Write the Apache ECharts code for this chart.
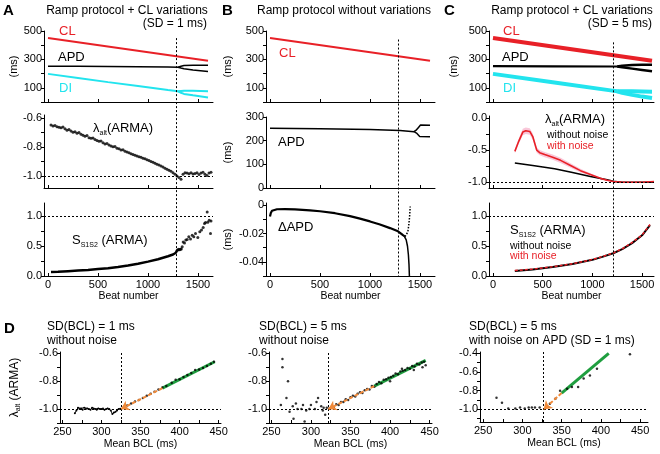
<!DOCTYPE html>
<html><head><meta charset="utf-8">
<script src="https://cdn.jsdelivr.net/npm/echarts@6/dist/echarts.min.js"></script>
<style>html,body{margin:0;padding:0;background:#fff}#c{width:660px;height:454px}</style>
</head><body><div id="c"></div>
<script>
// ---------------- DATA ----------------
const beatTicks = [0, 500, 1000, 1500];
const msTicks = [0, 100, 200, 300, 400, 500];
const msLabels = [100, 300, 500];
const aLamTicks = [-1.0, -0.9, -0.8, -0.7, -0.6];
const aLamLabels = [-1.0, -0.8, -0.6];
const sTicks = [0, 0.25, 0.5, 0.75, 1.0];
const sLabels = [0, 0.5, 1.0];
const bApdTicks = [0, 100, 200, 300];
const bDapdTicks = [0, -0.01, -0.02, -0.03, -0.04, -0.05];
const bDapdLabels = [0, -0.02, -0.04];
const cLamTicks = [0, -0.25, -0.5, -0.75, -1.0];
const cLamLabels = [0, -0.5, -1.0];
const bclTicks = [250, 275, 300, 325, 350, 375, 400, 425, 450];
const bclLabels = [250, 300, 350, 400, 450];
const dLamTicks = [-1.1, -1.0, -0.9, -0.8, -0.7, -0.6];
const dLamLabels = [-1.0, -0.8, -0.6];
const d3LamTicks = [-1.1, -1.0, -0.9, -0.8, -0.7, -0.6, -0.5, -0.4];
const d3LamLabels = [-1.0, -0.8, -0.6, -0.4];

// onset of alternans (vertical dotted lines)
const aOnset = 1275, bOnset = 1275, cOnset = 1210;
const d1Onset = 325, d2Onset = 322, d3Onset = 327;

// CL ramp (A, B, C)
const clBeats = [0, 1600];
const clValues = [450, 290];

// Panel A top
const aApdBeats = [0, 300, 600, 900, 1200, 1300];
const aApd = [252, 251, 250, 248, 246, 245];
const aDi = [198, 169, 140, 112, 84, 75];
const aBrBeats = [1300, 1330, 1360, 1450, 1600];
const aApdUp = [245, 252, 257, 258, 258];
const aApdLo = [245, 239, 234, 226, 214];
const aDiUp = [75, 78, 80, 79, 76];
const aDiLo = [75, 65, 57, 47, 32];

// Panel A middle: lambda_alt (ARMA)
const aLamBeats = [30,50,70,90,110,130,150,170,190,210,230,250,270,290,310,330,350,370,390,410,430,450,470,490,510,530,550,570,590,610,630,650,670,690,710,730,750,770,790,810,830,850,870,890,910,930,950,970,990,1010,1030,1050,1070,1090,1110,1130,1150,1170,1190,1210,1230,1250,1270,1290,1310,1330,1350,1370,1390,1410,1430,1450,1470,1490,1510,1530,1550,1570,1590,1610,1630];
const aLam = [-0.648,-0.655,-0.652,-0.660,-0.664,-0.668,-0.663,-0.675,-0.684,-0.680,
  -0.690,-0.698,-0.694,-0.705,-0.700,-0.712,-0.718,-0.725,-0.720,-0.735,
  -0.740,-0.738,-0.748,-0.755,-0.760,-0.758,-0.770,-0.778,-0.775,-0.785,
  -0.792,-0.798,-0.796,-0.808,-0.812,-0.820,-0.818,-0.828,-0.834,-0.838,
  -0.845,-0.850,-0.855,-0.860,-0.866,-0.870,-0.877,-0.880,-0.886,-0.892,
  -0.898,-0.904,-0.910,-0.917,-0.923,-0.930,-0.937,-0.944,-0.951,-0.958,
  -0.966,-0.975,-0.985,-0.998,-1.008,-1.020,
  -0.985,-0.975,-0.978,-0.982,-0.976,-0.984,-0.980,-0.975,-0.988,-0.978,-0.972,-0.985,-0.995,-0.978,-0.972];

// Panel A bottom: S_S1S2 (ARMA)
const aSBeats = [30,100,200,300,400,500,600,700,800,900,1000,1100,1200,1250,1275,1290];
const aS = [0.065,0.07,0.08,0.09,0.10,0.115,0.13,0.15,0.175,0.205,0.24,0.28,0.33,0.36,0.385,0.42];
const aSPostBeats = [1292,1300,1308,1316,1325,1333,1342,1352,1365,1378,1392,1408,1425,1442,1458,1475,1498,1518,1535,1552,1565,1575,1592,1598,1612,1625,1630];
const aSPost = [0.43,0.44,0.445,0.44,0.445,0.45,0.49,0.57,0.55,0.60,0.61,0.655,0.62,0.68,0.655,0.71,0.645,0.74,0.767,0.81,0.878,0.894,1.07,0.90,0.93,0.71,0.92];

// Panel B middle: APD
const bApdBeats = [0, 500, 1000, 1300, 1440];
const bApd = [252, 250, 247, 243, 238];
const bBrBeats = [1440, 1465, 1485, 1497, 1505, 1600];
const bApdUp = [238, 246, 256, 264, 266, 265];
const bApdLo = [238, 232, 224, 218, 216, 217];

// Panel B bottom: delta APD
const bDapdBeats = [0,8,20,40,70,150,250,400,500,650,800,900,1000,1100,1200,1280,1330,1350];
const bDapd = [-0.008,-0.0055,-0.004,-0.0032,-0.0029,-0.0028,-0.003,-0.0037,-0.0043,-0.0057,-0.0078,-0.0095,-0.0115,-0.0137,-0.0162,-0.0185,-0.0212,-0.0222];
const bDapdUpBeats = [1350,1365,1378,1388,1396,1402];
const bDapdUp = [-0.0222,-0.0215,-0.019,-0.014,-0.008,-0.001];
const bDapdDnBeats = [1345,1362,1375,1384,1390,1394];
const bDapdDn = [-0.0222,-0.0245,-0.029,-0.035,-0.042,-0.05];

// Panel C top
const cApdBeats = [0, 600, 1200, 1250];
const cApd = [252, 251, 250, 250];
const cDi = [198, 139, 80, 75];
const cBrBeats = [1250, 1300, 1400, 1500, 1600];
const cApdUp = [250, 256, 260, 262, 262];
const cApdLo = [250, 244, 235, 226, 217];
const cDiUp = [75, 76, 75, 74, 73];
const cDiLo = [75, 64, 50, 38, 28];

// Panel C middle
const cLamNoiseBeats = [220,260,300,330,370,400,440,470,520,600,680,780,880,980,1080,1150,1210,1300,1400,1500,1620];
const cLamNoise = [-0.52,-0.36,-0.22,-0.20,-0.21,-0.29,-0.50,-0.54,-0.57,-0.61,-0.66,-0.74,-0.82,-0.88,-0.94,-0.97,-0.99,-1.0,-1.0,-1.0,-0.99];
const cLamNoiseSd = [0.03,0.04,0.05,0.05,0.05,0.05,0.04,0.04,0.04,0.04,0.04,0.035,0.03,0.02,0.015,0.01,0.01,0.005,0.005,0.005,0.005];
const cLamCleanBeats = [220,400,620,800,980,1150,1210,1300,1620];
const cLamClean = [-0.70,-0.74,-0.79,-0.85,-0.91,-0.96,-0.985,-1.0,-1.0];

// Panel C bottom
const cSBeats = [220,400,600,800,1000,1100,1210,1300,1400,1500,1580];
const cSClean = [0.085,0.11,0.15,0.20,0.27,0.32,0.38,0.45,0.55,0.68,0.85];
const cSNoise = [0.09,0.115,0.155,0.205,0.275,0.325,0.385,0.455,0.56,0.685,0.86];

// Panel D1
const d1PreBcl = [266,268,270,272,274,276,278,280,282,284,286,288,290,292,294,296,298,300,302,304,306,308,310,312,314,316,318,320,322,324];
const d1Pre = [-1.03,-1.01,-0.99,-1.0,-0.995,-1.005,-0.99,-1.0,-0.995,-1.0,-1.005,-0.99,-0.995,-1.0,-1.005,-0.995,-1.0,-1.0,-0.995,-1.005,-1.0,-0.995,-1.0,-1.01,-1.035,-1.025,-1.02,-1.01,-1.0,-0.998];
const d1PostBcl = [328,333,338,343,348,353,358,363,368,373,378,383,390,395,400,405,410,415,420,425,430,435,440,444];
const d1Post = [-0.99,-0.975,-0.96,-0.945,-0.935,-0.92,-0.905,-0.89,-0.875,-0.86,-0.845,-0.835,-0.81,-0.79,-0.785,-0.77,-0.755,-0.74,-0.72,-0.715,-0.705,-0.69,-0.675,-0.66];
const d1FitBcl = [378, 445];
const d1Fit = [-0.85, -0.66];
const d1Arrow = [[378, -0.85], [325, -1.0]];

// Panel D2
const d2PreBcl = [264,264,271,269,262,273,278,292,277,281,283,288,290,294,298,300,305,307,309,313,315,318,316,320];
const d2Pre = [-0.64,-0.70,-0.80,-0.92,-0.97,-1.02,-1.07,-1.09,-0.98,-0.96,-1.00,-1.00,-0.97,-1.01,-1.00,-0.97,-1.00,-0.95,-0.92,-0.98,-1.01,-1.04,-0.99,-0.99];
const d2PostBcl = [323,326,329,332,335,338,341,344,347,350,353,356,359,362,365,368,371,374,377,380,383,386,389,392,395,398,401,404,407,410,413,416,419,422,425,428,431,434,437,440,443,445,441,400,430,415];
const d2Post = [-0.995,-0.985,-0.985,-0.965,-0.97,-0.95,-0.95,-0.93,-0.935,-0.915,-0.905,-0.91,-0.89,-0.88,-0.885,-0.865,-0.855,-0.86,-0.835,-0.84,-0.82,-0.805,-0.815,-0.79,-0.785,-0.775,-0.77,-0.76,-0.745,-0.75,-0.73,-0.725,-0.72,-0.705,-0.71,-0.69,-0.695,-0.675,-0.68,-0.665,-0.66,-0.685,-0.70,-0.80,-0.72,-0.71];
const d2FitBcl = [380, 445];
const d2Fit = [-0.835, -0.65];
const d2Arrow = [[380, -0.835], [322, -1.0]];

// Panel D3
const d3Bcl = [267,274,282,291,297,303,308,312,316,322,335,342,348,357,363,371,378,386,395,437];
const d3Val = [-0.875,-0.93,-0.99,-0.99,-0.98,-0.99,-0.98,-0.98,-0.98,-0.98,-0.94,-0.885,-0.80,-0.78,-0.76,-0.76,-0.67,-0.636,-0.565,-0.41];
const d3FitBcl = [350, 410];
const d3Fit = [-0.825, -0.40];
const d3Arrow = [[350, -0.825], [327, -1.0]];

// ---------------- STYLE / BUILD ----------------
const FONT = '"Liberation Sans", Arial, sans-serif';
const RED = '#e82027', CYAN = '#22e4ee', GREEN = '#1f9e3f', ORANGE = '#f08a3a', PINK = 'rgba(242,130,170,0.45)';
const zip = (xs, ys) => xs.map((x, i) => [x, ys[i]]);

const grids = [
  {left: 44, top: 31, width: 169, height: 71},
  {left: 44, top: 115, width: 169, height: 73},
  {left: 44, top: 203, width: 169, height: 73},
  {left: 266, top: 31, width: 169, height: 71},
  {left: 266, top: 117, width: 169, height: 71},
  {left: 266, top: 203, width: 169, height: 73},
  {left: 489, top: 31, width: 165, height: 71},
  {left: 489, top: 116, width: 165, height: 72},
  {left: 489, top: 203, width: 165, height: 73},
  {left: 60, top: 352, width: 161, height: 71},
  {left: 269, top: 352, width: 163, height: 71},
  {left: 480, top: 352, width: 168, height: 70}
];

function axis(gi, min, max, ticks, labels, fmt, isY) {
  return {
    type: 'value', gridIndex: gi, min: min, max: max,
    axisLine: {show: true, onZero: false, lineStyle: {color: '#000', width: 1}},
    axisTick: {show: true, inside: !isY, length: 3, customValues: ticks, lineStyle: {color: '#000', width: 1}},
    axisLabel: labels ? {show: true, customValues: labels, formatter: fmt, margin: isY ? 2 : 3, color: '#000', fontSize: 11, fontFamily: FONT} : {show: false},
    splitLine: {show: false}
  };
}
const yax = (gi, min, max, ticks, labels, fmt) => axis(gi, min, max, ticks, labels, fmt, true);
function named(ax, name, gap, extra) {
  return Object.assign(ax, {name: name, nameLocation: 'middle', nameGap: gap,
    nameTextStyle: Object.assign({color: '#000', fontSize: 10.5, fontFamily: FONT}, extra || {})});
}
const fStr = v => String(v);
const f1 = v => v.toFixed(1);
const f2 = v => (v === 0 ? '0' : v.toFixed(2));

const xAxes = [
  axis(0, -40, 1650, beatTicks), axis(1, -40, 1650, beatTicks),
  named(axis(2, -40, 1650, beatTicks, beatTicks, fStr), 'Beat number', 15),
  axis(3, -40, 1650, beatTicks), axis(4, -40, 1650, beatTicks),
  named(axis(5, -40, 1650, beatTicks, beatTicks, fStr), 'Beat number', 15),
  axis(6, -40, 1620, beatTicks), axis(7, -40, 1620, beatTicks),
  named(axis(8, -40, 1620, beatTicks, beatTicks, fStr), 'Beat number', 15),
  named(axis(9, 247, 453, bclTicks, bclLabels, fStr), 'Mean BCL (ms)', 16),
  named(axis(10, 247, 453, bclTicks, bclLabels, fStr), 'Mean BCL (ms)', 16),
  named(axis(11, 246, 460, bclTicks, bclLabels, fStr), 'Mean BCL (ms)', 16)
];
const lamRich = {
  a: {fontSize: 12, fontFamily: FONT, color: '#000', lineHeight: 15},
  s: {fontSize: 7, fontFamily: FONT, color: '#000', lineHeight: 15, verticalAlign: 'bottom'}
};
const yAxes = [
  named(yax(0, 0, 500, msTicks, msLabels, fStr), '(ms)', 25, {fontSize: 11}),
  yax(1, -1.08, -0.58, aLamTicks, aLamLabels, f1),
  yax(2, 0, 1.22, sTicks, sLabels, f1),
  named(yax(3, 0, 500, msTicks, msLabels, fStr), '(ms)', 33, {fontSize: 11}),
  named(yax(4, 0, 300, bApdTicks, bApdTicks, fStr), '(ms)', 33, {fontSize: 11}),
  named(yax(5, -0.05, 0.0015, bDapdTicks, bDapdLabels, f2), '(ms)', 33, {fontSize: 11}),
  named(yax(6, 0, 500, msTicks, msLabels, fStr), '(ms)', 30, {fontSize: 11}),
  yax(7, -1.09, 0.03, cLamTicks, cLamLabels, f1),
  yax(8, 0, 1.22, sTicks, sLabels, f1),
  named(yax(9, -1.1, -0.59, dLamTicks, dLamLabels, f1), '{a|λ}{s|alt}{a| (ARMA)}', 38, {rich: lamRich}),
  yax(10, -1.1, -0.59, dLamTicks, dLamLabels, f1),
  yax(11, -1.135, -0.385, d3LamTicks, d3LamLabels, f1)
];

function line(gi, xs, ys, color, width, extra) {
  return Object.assign({type: 'line', xAxisIndex: gi, yAxisIndex: gi, data: zip(xs, ys),
    showSymbol: false, symbol: 'none', smooth: false, silent: true,
    lineStyle: {color: color, width: width}, z: 3}, extra || {});
}
function dots(gi, xs, ys, size, color, extra) {
  return Object.assign({type: 'scatter', xAxisIndex: gi, yAxisIndex: gi, data: zip(xs, ys),
    symbol: 'circle', symbolSize: size, silent: true, itemStyle: {color: color || '#000'}, z: 4}, extra || {});
}
function refLines(items) {
  return {silent: true, symbol: 'none', label: {show: false}, animation: false,
    lineStyle: {type: [2, 2], color: '#000', width: 1}, data: items};
}
function arrow(pts) {
  return {silent: true, symbol: ['none', 'arrow'], symbolSize: 8, label: {show: false}, animation: false,
    lineStyle: {type: [4, 2], color: ORANGE, width: 2},
    data: [[{coord: pts[0]}, {coord: pts[1]}]]};
}

const series = [
  // A top
  line(0, clBeats, clValues, RED, 2),
  line(0, aApdBeats, aApd, '#000', 1.5), line(0, aBrBeats, aApdUp, '#000', 1.5), line(0, aBrBeats, aApdLo, '#000', 1.5),
  line(0, aApdBeats, aDi, CYAN, 2), line(0, aBrBeats, aDiUp, CYAN, 2), line(0, aBrBeats, aDiLo, CYAN, 2),
  // A middle
  dots(1, aLamBeats, aLam, 3, '#000', {markLine: refLines([{yAxis: -1.0}])}),
  // A bottom
  line(2, aSBeats, aS, '#000', 2.5, {markLine: refLines([{yAxis: 1.0}])}),
  dots(2, aSPostBeats, aSPost, 3),
  // B top
  line(3, clBeats, clValues, RED, 2),
  // B middle
  line(4, bApdBeats, bApd, '#000', 1.5), line(4, bBrBeats, bApdUp, '#000', 1.5), line(4, bBrBeats, bApdLo, '#000', 1.5),
  // B bottom
  line(5, bDapdBeats, bDapd, '#000', 2.2),
  line(5, bDapdUpBeats, bDapdUp, '#000', 1.5, {lineStyle: {color: '#000', width: 1.5, type: [1.5, 1.5]}}),
  line(5, bDapdDnBeats, bDapdDn, '#000', 1.5),
  // C top
  line(6, clBeats, clValues, RED, 4),
  line(6, cApdBeats, cApd, '#000', 2.2), line(6, cBrBeats, cApdUp, '#000', 2.5), line(6, cBrBeats, cApdLo, '#000', 2.5),
  line(6, cApdBeats, cDi, CYAN, 4), line(6, cBrBeats, cDiUp, CYAN, 4), line(6, cBrBeats, cDiLo, CYAN, 4),
  // C middle
  {type: 'custom', xAxisIndex: 7, yAxisIndex: 7, data: [[800, -0.7]], silent: true, z: 2,
    renderItem: function (params, api) {
      const up = cLamNoiseBeats.map((b, i) => api.coord([b, cLamNoise[i] + cLamNoiseSd[i]]));
      const dn = cLamNoiseBeats.map((b, i) => api.coord([b, cLamNoise[i] - cLamNoiseSd[i]])).reverse();
      return {type: 'polygon', shape: {points: up.concat(dn)}, style: {fill: PINK}};
    }},
  line(7, cLamCleanBeats, cLamClean, '#000', 1.5, {markLine: refLines([{yAxis: -1.0}])}),
  line(7, cLamNoiseBeats, cLamNoise, RED, 1.6),
  // C bottom
  line(8, cSBeats, cSClean, '#000', 2, {markLine: refLines([{yAxis: 1.0}])}),
  line(8, cSBeats, cSNoise, RED, 1.5, {lineStyle: {color: RED, width: 1.5, type: [3, 2]}}),
  // D1
  line(9, d1PreBcl, d1Pre, '#000', 1, {showSymbol: true, symbol: 'circle', symbolSize: 2, itemStyle: {color: '#000'},
    markLine: refLines([{yAxis: -1.0}, {xAxis: d1Onset}])}),
  dots(9, d1PostBcl, d1Post, 2.5),
  line(9, d1FitBcl, d1Fit, GREEN, 3, {markLine: arrow(d1Arrow)}),
  // D2
  dots(10, d2PreBcl, d2Pre, 2.5, '#000', {markLine: refLines([{yAxis: -1.0}, {xAxis: d2Onset}])}),
  dots(10, d2PostBcl, d2Post, 2.5),
  line(10, d2FitBcl, d2Fit, GREEN, 3, {markLine: arrow(d2Arrow)}),
  // D3
  dots(11, d3Bcl, d3Val, 2.5, '#000', {markLine: refLines([{yAxis: -1.0}, {xAxis: d3Onset}])}),
  line(11, d3FitBcl, d3Fit, GREEN, 3, {markLine: arrow(d3Arrow)})
];

function txt(id, x, y, text, o) {
  o = o || {};
  const align = o.align || 'left';
  return {type: 'text', id: id, x: x, y: y, silent: true, z: 20,
    style: {text: text, fill: o.color || '#000', fontSize: o.size || 12, fontFamily: FONT,
      fontWeight: o.bold ? 'bold' : 'normal', align: align, textAlign: align,
      verticalAlign: 'middle', textVerticalAlign: 'middle', rich: o.rich}};
}
const bigRich = {
  a: {fontSize: 13, fontFamily: FONT, fill: '#000', color: '#000', lineHeight: 17},
  s: {fontSize: 7, fontFamily: FONT, fill: '#000', color: '#000', lineHeight: 17, verticalAlign: 'bottom'}
};
const texts = [
  txt('pA', 3, 11, 'A', {bold: true, size: 15}),
  txt('tA1', 127, 11, 'Ramp protocol + CL variations', {align: 'center'}),
  txt('tA2', 207, 24, '(SD = 1 ms)', {align: 'right'}),
  txt('pB', 222, 11, 'B', {bold: true, size: 15}),
  txt('tB1', 344, 11, 'Ramp protocol without variations', {align: 'center'}),
  txt('pC', 444, 11, 'C', {bold: true, size: 15}),
  txt('tC1', 572, 11, 'Ramp protocol + CL variations', {align: 'center'}),
  txt('tC2', 652, 24, '(SD = 5 ms)', {align: 'right'}),
  txt('aCL', 59, 31, 'CL', {color: RED, size: 13}),
  txt('aAPD', 58, 57, 'APD', {size: 13}),
  txt('aDI', 59, 88, 'DI', {color: CYAN, size: 13}),
  txt('aLam', 93, 128, '{a|λ}{s|alt}{a|(ARMA)}', {rich: bigRich}),
  txt('aS', 72, 240, '{a|S}{s|S1S2}{a| (ARMA)}', {rich: bigRich}),
  txt('bCL', 279, 53, 'CL', {color: RED, size: 13}),
  txt('bAPD', 278, 142, 'APD', {size: 13}),
  txt('bD', 278, 227, 'ΔAPD', {size: 13}),
  txt('cCL', 503, 31, 'CL', {color: RED, size: 13}),
  txt('cAPD', 502, 57, 'APD', {size: 13}),
  txt('cDI', 503, 88, 'DI', {color: CYAN, size: 13}),
  txt('cLam', 545, 119, '{a|λ}{s|alt}{a|(ARMA)}', {rich: bigRich}),
  txt('cLw', 547, 135, 'without noise', {size: 10.5}),
  txt('cLn', 547, 146, 'with noise', {size: 10.5, color: RED}),
  txt('cS', 510, 230, '{a|S}{s|S1S2}{a| (ARMA)}', {rich: bigRich}),
  txt('cSw', 510, 246, 'without noise', {size: 10.5}),
  txt('cSn', 510, 256, 'with noise', {size: 10.5, color: RED}),
  txt('pD', 4, 329, 'D', {bold: true, size: 15}),
  txt('d1a', 47, 327, 'SD(BCL) = 1 ms'),
  txt('d1b', 47, 341, 'without noise'),
  txt('d2a', 259, 327, 'SD(BCL) = 5 ms'),
  txt('d2b', 259, 341, 'without noise'),
  txt('d3a', 469, 327, 'SD(BCL) = 5 ms'),
  txt('d3b', 469, 341, 'with noise on APD (SD = 1 ms)')
];

const chart = echarts.init(document.getElementById('c'), null, {renderer: 'canvas', width: 660, height: 454});
chart.setOption({
  animation: false,
  backgroundColor: '#fff',
  textStyle: {fontFamily: FONT},
  grid: grids,
  xAxis: xAxes,
  yAxis: yAxes,
  series: series,
  graphic: {elements: texts}
});

// vertical dotted onset lines spanning the three stacked plots of each column
function vline(id, topGrid, botGrid, xVal, yTopVal, yBotVal) {
  const p1 = chart.convertToPixel({gridIndex: topGrid}, [xVal, yTopVal]);
  const p2 = chart.convertToPixel({gridIndex: botGrid}, [xVal, yBotVal]);
  const x = Math.round(p1[0]) + 0.5;
  return {type: 'line', id: id, silent: true, z: 15,
    shape: {x1: x, y1: p1[1], x2: x, y2: p2[1]},
    style: {stroke: '#000', lineWidth: 1, lineDash: [2, 2]}};
}
chart.setOption({graphic: {elements: [
  vline('vA', 0, 2, aOnset, 450, 0),
  vline('vB', 3, 5, bOnset, 440, -0.05),
  vline('vC', 6, 8, cOnset, 420, 0)
]}});
</script></body></html>
